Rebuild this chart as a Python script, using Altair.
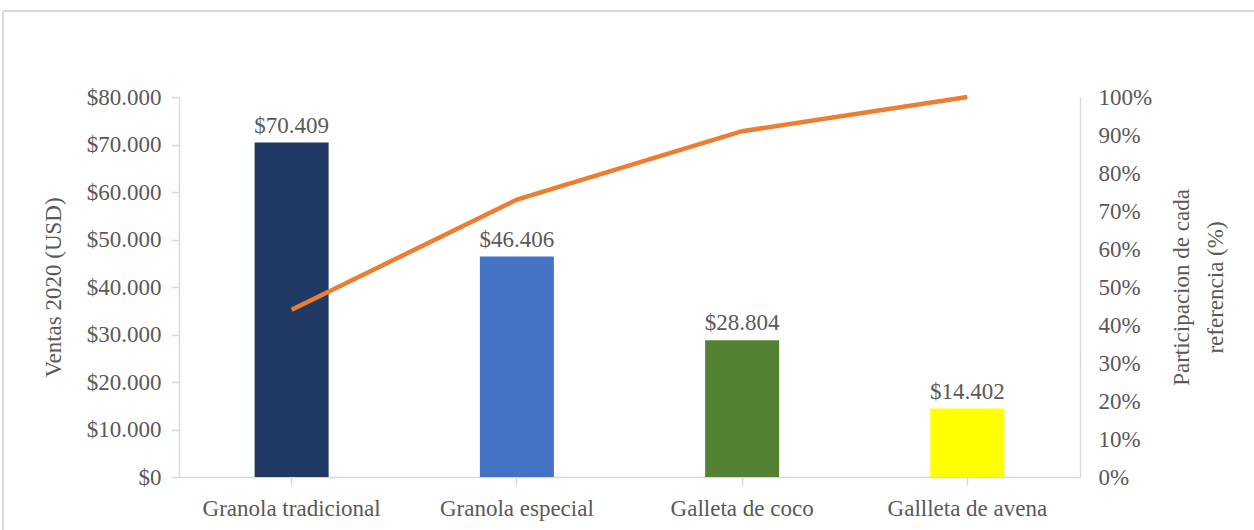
import altair as alt
import pandas as pd

productos = ["Granola tradicional", "Granola especial", "Galleta de coco", "Gallleta de avena"]
ventas = [70409, 46406, 28804, 14402]
participacion = [0.44, 0.73, 0.91, 1.00]
colores = ["#203864", "#4472C4", "#548235", "#FFFF00"]

df = pd.DataFrame({"producto": productos, "ventas": ventas, "part": participacion, "color": colores})

FONT = "Liberation Serif"
FS = 23
TXT = "#595959"
GRID = "#d9d9d9"

x_enc = alt.X("producto:N", sort=productos, title=None,
              scale=alt.Scale(paddingInner=0, paddingOuter=0),
              axis=alt.Axis(labelAngle=0, labelFont=FONT, labelFontSize=FS, labelColor=TXT,
                            domainColor=GRID, tickColor=GRID, tickSize=8, labelPadding=12,
                            domainWidth=1.5, tickWidth=1.5))

base = alt.Chart(df)

bars = base.mark_bar(size=74).encode(
    x=x_enc,
    y=alt.Y("ventas:Q", scale=alt.Scale(domain=[0, 80000], nice=False),
            axis=alt.Axis(values=list(range(0, 80001, 10000)), grid=False,
                          labelExpr='"$" + replace(format(datum.value, ",.0f"), ",", ".")',
                          labelFont=FONT, labelFontSize=FS, labelColor=TXT,
                          domainColor=GRID, tickColor=GRID, tickSize=8, labelPadding=10,
                          domainWidth=1.5, tickWidth=1.5,
                          title="Ventas 2020 (USD)", titleFont=FONT, titleFontSize=FS,
                          titleFontWeight="normal", titleColor=TXT,
                          titleX=-126, titleY=190, titleAlign="center", titleBaseline="middle",
                          titleAngle=270)),
    color=alt.Color("color:N", scale=None),
)

text = base.mark_text(dy=-5, baseline="bottom", font=FONT, fontSize=FS, color=TXT).transform_calculate(
    etiqueta='"$" + replace(format(datum.ventas, ",.0f"), ",", ".")'
).encode(
    x=alt.X("producto:N", sort=productos),
    y=alt.Y("ventas:Q"),
    text="etiqueta:N",
)

border_left = alt.Chart(df).mark_rule(color=GRID, strokeWidth=1.5).encode(
    x=alt.value(-176), y=alt.value(-86), y2=alt.value(460))
border_top = alt.Chart(df).mark_rule(color=GRID, strokeWidth=1.5).encode(
    x=alt.value(-176), x2=alt.value(1100), y=alt.value(-86))

line = base.mark_line(color="#ED7D31", strokeWidth=4.5).encode(
    x=alt.X("producto:N", sort=productos),
    y=alt.Y("part:Q", scale=alt.Scale(domain=[0, 1], nice=False),
            axis=alt.Axis(orient="right", values=[i / 10 for i in range(11)], format=".0%",
                          grid=False, ticks=False, labelAlign="left",
                          labelFont=FONT, labelFontSize=FS, labelColor=TXT,
                          domainColor=GRID, domainWidth=1.5, labelPadding=18,
                          title=["Participacion de cada", "referencia (%)"],
                          titleFont=FONT, titleFontSize=FS, titleFontWeight="normal",
                          titleColor=TXT, titleLineHeight=34,
                          titleX=101, titleY=190, titleAlign="center", titleBaseline="middle",
                          titleAngle=270)),
)

left = alt.layer(border_left, border_top, bars, text)
chart = alt.layer(left, line).resolve_scale(y="independent").properties(
    width=901, height=380,
    autosize=alt.AutoSizeParams(type="none"),
    padding={"left": 179, "top": 97, "right": 174, "bottom": 53},
    background="white",
).configure_view(stroke=None)

chart.save("out.html", embed_options={"renderer": "svg", "actions": False})
